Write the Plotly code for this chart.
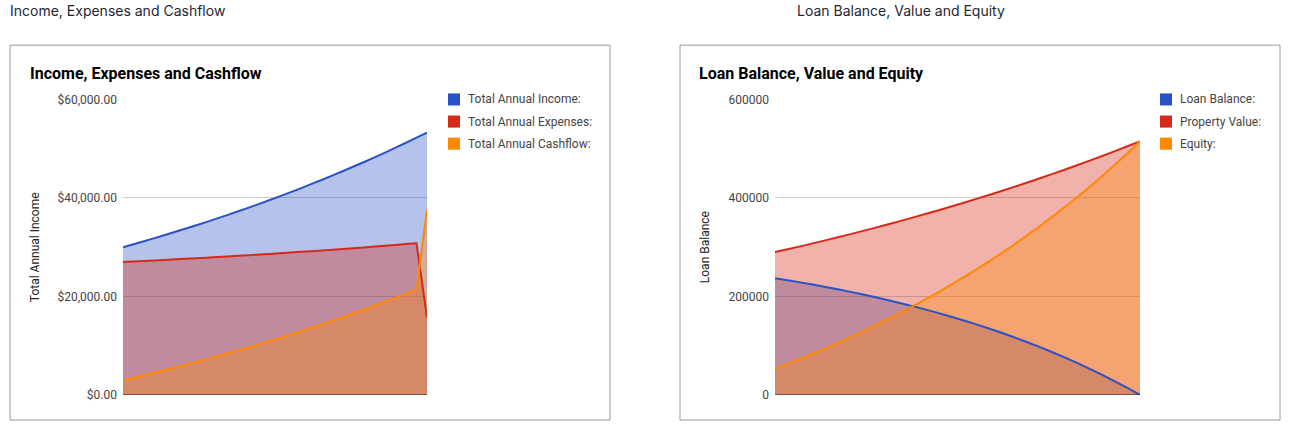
import plotly.graph_objects as go

W, H = 1294, 435
OFFSET_Y = 7
VSCALE = 0.963

years = list(range(1, 31))

total_income = [30000, 30600, 31212, 31836, 32473, 33122, 33785, 34461, 35150, 35853,
                36570, 37301, 38047, 38808, 39584, 40376, 41184, 42007, 42847, 43704,
                44578, 45470, 46379, 47307, 48253, 49218, 50203, 51207, 52231, 53275]
total_expenses = [27000, 27103, 27207, 27314, 27423, 27534, 27647, 27763, 27880, 28000,
                  28123, 28248, 28375, 28506, 28638, 28774, 28912, 29052, 29196, 29342,
                  29492, 29644, 29800, 29958, 30120, 30285, 30453, 30625, 30800, 15700]
total_cashflow = [3000, 3497, 4005, 4522, 5050, 5588, 6138, 6698, 7270, 7853,
                  8447, 9053, 9672, 10302, 10946, 11602, 12272, 12955, 13651, 14362,
                  15086, 15826, 16579, 17349, 18133, 18933, 19750, 20582, 21431, 37575]

loan_balance = [237000, 232872, 228561, 224049, 219344, 214418, 209273, 203898, 198285, 192415,
                186279, 179868, 173173, 166175, 158865, 151216, 143227, 134881, 126158, 117041,
                107521, 97570, 87170, 76291, 64936, 53068, 40659, 27699, 14152, 0]
property_value = [290000, 295800, 301716, 307748, 313896, 320189, 326598, 333123, 339793, 346579,
                  353510, 360586, 367778, 375144, 382655, 390311, 398112, 406058, 414178, 422472,
                  430911, 439553, 448340, 457301, 466436, 475774, 485286, 495001, 504890, 514982]
equity = [53000, 62928, 73155, 83699, 94552, 105771, 117325, 129225, 141508, 154164,
          167231, 180718, 194605, 208969, 223790, 239095, 254885, 271177, 288020, 305431,
          323390, 341983, 361170, 381010, 401500, 422706, 444627, 467302, 490738, 514982]

names1 = ["Total Annual Income:", "Total Annual Expenses:", "Total Annual Cashflow:"]
names2 = ["Loan Balance:", "Property Value:", "Equity:"]
ticks1 = [0, 20000, 40000, 60000]
ticklabels1 = ["$0.00", "$20,000.00", "$40,000.00", "$60,000.00"]
ticks2 = [0, 200000, 400000, 600000]
ticklabels2 = ["0", "200000", "400000", "600000"]

page_title1 = "Income, Expenses and Cashflow"
page_title2 = "Loan Balance, Value and Equity"
chart_title1 = "Income, Expenses and Cashflow"
chart_title2 = "Loan Balance, Value and Equity"
ytitle1 = "Total Annual Income"
ytitle2 = "Loan Balance"

colors = ["#2a51c6", "#d52a16", "#ff8800"]
fills = ["rgba(42,81,198,0.35)", "rgba(213,42,22,0.36)", "rgba(255,136,0,0.34)"]

FONT = "Roboto, Arial, sans-serif"


def px(x):
    return x / W


def py(y):
    return 1 - ((y - OFFSET_Y) / VSCALE) / H


fig = go.Figure()

for series, names, xa, ya in [([total_income, total_expenses, total_cashflow], names1, "x", "y"),
                              ([loan_balance, property_value, equity], names2, "x2", "y2")]:
    for i, s in enumerate(series):
        fig.add_trace(go.Scatter(x=years, y=s, name=names[i], mode="lines",
                                 line=dict(color="rgba(0,0,0,0)", width=0, simplify=False),
                                 fill="tozeroy", fillcolor=fills[i], showlegend=False,
                                 hoverinfo="skip", xaxis=xa, yaxis=ya))
    for i, s in enumerate(series):
        fig.add_trace(go.Scatter(x=years, y=s, name=names[i], mode="lines",
                                 line=dict(color=colors[i], width=2, simplify=False),
                                 showlegend=False, xaxis=xa, yaxis=ya))

ydom = [py(393), py(99)]
xcommon = dict(showgrid=False, showticklabels=False, zeroline=False, showline=False,
               ticks="", range=[years[0], years[-1]], fixedrange=True)
ycommon = dict(showgrid=True, gridcolor="#cccccc", gridwidth=1, zeroline=False,
               showline=False, ticks="", ticklabelstandoff=5,
               tickfont=dict(family=FONT, size=12, color="#444444"), fixedrange=True)

fig.update_layout(
    width=W, height=H, autosize=False,
    margin=dict(l=0, r=0, t=0, b=0),
    paper_bgcolor="white", plot_bgcolor="white",
    xaxis=dict(domain=[px(123), px(427)], anchor="y", **xcommon),
    yaxis=dict(domain=ydom, anchor="x", range=[0, 60000], tickvals=ticks1,
               ticktext=ticklabels1, **ycommon),
    xaxis2=dict(domain=[px(775), px(1140)], anchor="y2", **xcommon),
    yaxis2=dict(domain=ydom, anchor="x2", range=[0, 600000], tickvals=ticks2,
                ticktext=ticklabels2, **ycommon),
    showlegend=False,
)

shapes = []
annotations = []

for x0, x1 in [(10, 610), (680, 1280)]:
    shapes.append(dict(type="rect", xref="paper", yref="paper", x0=px(x0), x1=px(x1),
                       y0=py(418), y1=py(45), line=dict(color="#9a9a9a", width=1),
                       fillcolor="rgba(0,0,0,0)", layer="below"))

for xr, yr in [("x", "y"), ("x2", "y2")]:
    shapes.append(dict(type="line", xref=xr, yref=yr, x0=years[0], x1=years[-1], y0=0, y1=0,
                       line=dict(color="#333333", width=1), layer="above"))

annotations.append(dict(text=page_title1, xref="paper", yref="paper", x=px(8), y=py(10),
                        xanchor="left", yanchor="middle", showarrow=False,
                        font=dict(family="Inter, Roboto, sans-serif", size=14, color="#1f2633")))
annotations.append(dict(text=page_title2, xref="paper", yref="paper", x=px(795), y=py(10),
                        xanchor="left", yanchor="middle", showarrow=False,
                        font=dict(family="Inter, Roboto, sans-serif", size=14, color="#1f2633")))

annotations.append(dict(text="<b>" + chart_title1 + "</b>", xref="paper", yref="paper",
                        x=px(28), y=py(73), xanchor="left", yanchor="middle", showarrow=False,
                        font=dict(family=FONT, size=16, color="#000000")))
annotations.append(dict(text="<b>" + chart_title2 + "</b>", xref="paper", yref="paper",
                        x=px(697), y=py(73), xanchor="left", yanchor="middle", showarrow=False,
                        font=dict(family=FONT, size=16, color="#000000")))

annotations.append(dict(text=ytitle1, xref="paper", yref="paper", x=px(35), y=py(246),
                        xanchor="center", yanchor="middle", showarrow=False, textangle=-90,
                        font=dict(family=FONT, size=12, color="#222222")))
annotations.append(dict(text=ytitle2, xref="paper", yref="paper", x=px(705), y=py(246),
                        xanchor="center", yanchor="middle", showarrow=False, textangle=-90,
                        font=dict(family=FONT, size=12, color="#222222")))

for lx, names in [(448, names1), (1160, names2)]:
    for i, nm in enumerate(names):
        cy = 99 + 22 * i
        shapes.append(dict(type="rect", xref="paper", yref="paper", x0=px(lx), x1=px(lx + 12),
                           y0=py(cy + 6), y1=py(cy - 6), line=dict(width=0),
                           fillcolor=colors[i]))
        annotations.append(dict(text=nm, xref="paper", yref="paper", x=px(lx + 18), y=py(cy),
                                xanchor="left", yanchor="middle", showarrow=False,
                                font=dict(family=FONT, size=12, color="#444444")))

fig.update_layout(shapes=shapes, annotations=annotations)

fig.write_html("out.html",
               config={"responsive": False, "displayModeBar": False},
               post_script="document.body.style.margin='0px';document.body.style.overflow='hidden';")
